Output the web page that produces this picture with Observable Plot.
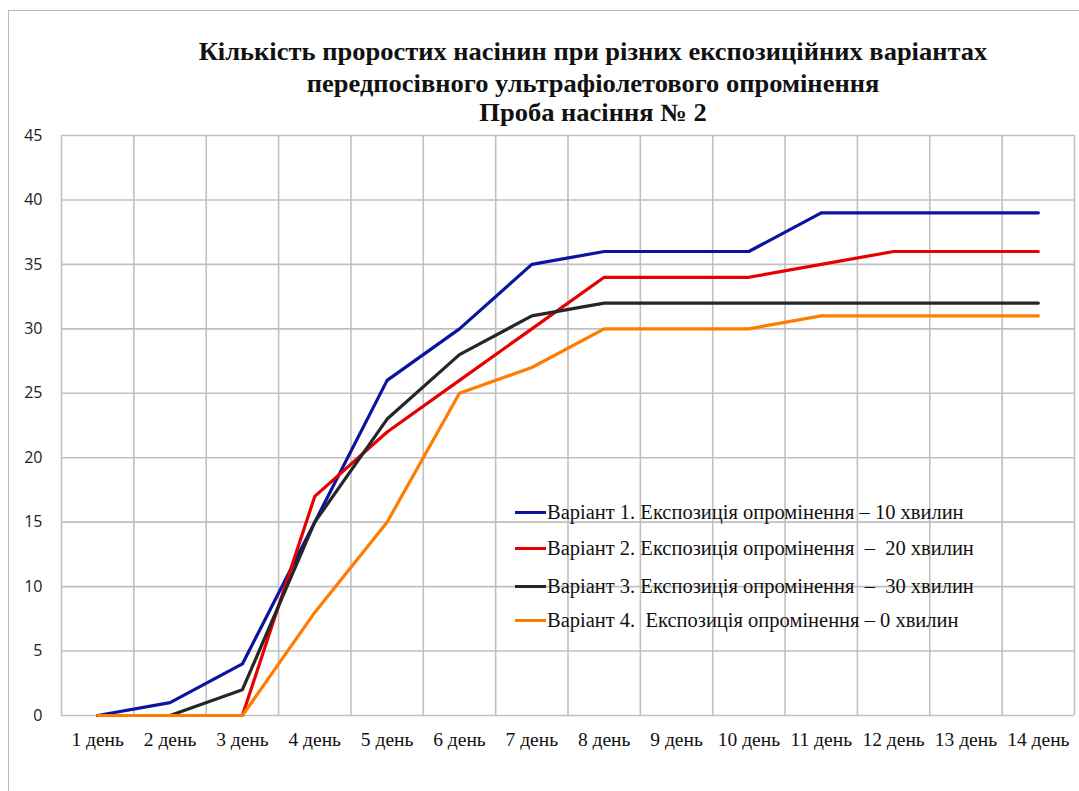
<!DOCTYPE html>
<html>
<head>
<meta charset="utf-8">
<script src="https://cdn.jsdelivr.net/npm/d3@7"></script>
<script src="https://cdn.jsdelivr.net/npm/@observablehq/plot@0.6"></script>
<style>
  html, body { margin: 0; padding: 0; background: #fff; width: 1079px; height: 791px; overflow: hidden; }
  #wrap { position: relative; width: 1079px; height: 791px; }
  #frame { position: absolute; left: 8px; top: 10px; width: 1200px; height: 900px; border: 1.5px solid #b8b8b8; box-sizing: border-box; }
  #title { position: absolute; left: 0; top: 0; width: 1079px; height: 120px; }
  #title div { position: absolute; left: 0; width: 1186px; text-align: center; font-family: "Liberation Serif", "Times New Roman", serif; font-weight: bold; font-size: 25px; line-height: 30px; color: #111; white-space: nowrap; transform: scaleX(1.06); transform-origin: 593px 50%; }
  #chart { position: absolute; left: 0; top: 120px; }
  #legend { position: absolute; left: 515px; top: 500px; font-family: "Liberation Serif", "Times New Roman", serif; font-size: 20.5px; color: #111; }
  #legend .row { position: absolute; left: 0; height: 24px; white-space: pre; display: flex; align-items: center; }
  #legend .sw { width: 31px; height: 3px; margin-right: 1px; }
</style>
</head>
<body>
<div id="wrap">
  <div id="frame"></div>
  <div id="title"></div>
  <div id="chart"></div>
  <div id="legend"></div>
</div>
<script>
const titleLines = [
  "Кількість проростих насінин при різних експозиційних варіантах",
  "передпосівного ультрафіолетового опромінення",
  "Проба насіння № 2"
];
const dayLabels = ["1 день","2 день","3 день","4 день","5 день","6 день","7 день","8 день","9 день","10 день","11 день","12 день","13 день","14 день"];
const seriesNames = [
  "Варіант 1. Експозиція опромінення – 10 хвилин",
  "Варіант 2. Експозиція опромінення  –  20 хвилин",
  "Варіант 3. Експозиція опромінення  –  30 хвилин",
  "Варіант 4.  Експозиція опромінення – 0 хвилин"
];
const seriesColors = ["#0a14a0", "#e60000", "#262626", "#ff7c00"];
const variant1 = [0, 1, 4, 15, 26, 30, 35, 36, 36, 36, 39, 39, 39, 39];
const variant2 = [0, 0, 0, 17, 22, 26, 30, 34, 34, 34, 35, 36, 36, 36];
const variant3 = [0, 0, 2, 15, 23, 28, 31, 32, 32, 32, 32, 32, 32, 32];
const variant4 = [0, 0, 0, 8, 15, 25, 27, 30, 30, 30, 31, 31, 31, 31];
const yTicks = [0, 5, 10, 15, 20, 25, 30, 35, 40, 45];

// title
const tEl = document.getElementById("title");
const titleTops = [37, 69, 98];
titleLines.forEach((t, i) => {
  const d = document.createElement("div");
  d.textContent = t;
  d.style.top = titleTops[i] + "px";
  tEl.appendChild(d);
});

const allSeries = [variant1, variant2, variant3, variant4];
const data = [];
allSeries.forEach((vals, s) => vals.forEach((v, i) => data.push({ day: i + 1, value: v, series: seriesNames[s] })));
const dayIdx = dayLabels.map((_, i) => i + 1);
const boundaries = dayLabels.map((_, i) => i + 0.5).concat([dayLabels.length + 0.5]);

const plot = Plot.plot({
  width: 1079,
  height: 671,
  marginLeft: 61,
  marginRight: 5,
  marginTop: 15,
  marginBottom: 76,
  style: { background: "transparent", overflow: "visible" },
  x: { type: "linear", domain: [0.5, dayLabels.length + 0.5], label: null },
  y: { domain: [0, 45], label: null },
  color: { domain: seriesNames, range: seriesColors },
  marks: [
    Plot.ruleX(boundaries, { stroke: "#c0c0c0", strokeWidth: 1.6 }),
    Plot.ruleY(yTicks, { stroke: "#c0c0c0", strokeWidth: 1.6 }),
    Plot.axisY({ ticks: yTicks, tickSize: 0, tickPadding: 19, fontSize: 16, fill: "#222", label: null, fontFamily: "Open Sans, Noto Sans, sans-serif" }),
    Plot.axisX({ ticks: dayIdx, tickFormat: d => dayLabels[d - 1], tickSize: 0, tickPadding: 17, fontSize: 19.5, fill: "#111", label: null, fontFamily: "Liberation Serif, Times New Roman, serif" }),
    Plot.line(data, { x: "day", y: "value", z: "series", stroke: "series", strokeWidth: 3.2, strokeLinejoin: "round" })
  ]
});
plot.style.fontFamily = "Liberation Serif, serif";
document.getElementById("chart").appendChild(plot);

// legend
const lg = document.getElementById("legend");
const rowTops = [0, 36, 74, 108];
seriesNames.forEach((n, i) => {
  const r = document.createElement("div");
  r.className = "row";
  r.style.top = rowTops[i] + "px";
  const sw = document.createElement("span");
  sw.className = "sw";
  sw.style.background = seriesColors[i];
  const tx = document.createElement("span");
  tx.textContent = n;
  r.appendChild(sw);
  r.appendChild(tx);
  lg.appendChild(r);
});
</script>
</body>
</html>
